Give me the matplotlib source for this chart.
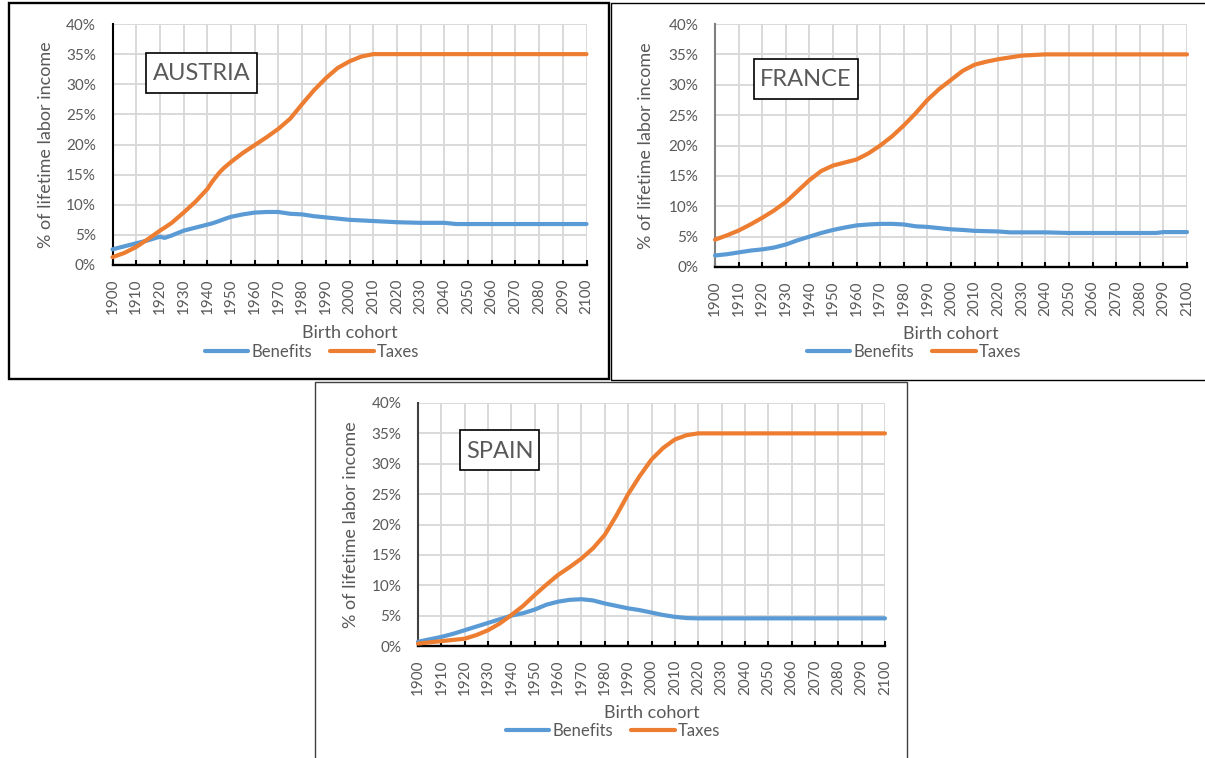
import matplotlib
matplotlib.use("Agg")
import matplotlib.pyplot as plt
from matplotlib.patches import Rectangle
from matplotlib.ticker import FuncFormatter, MultipleLocator

plt.rcParams['font.family'] = ['Lato', 'DejaVu Sans']

# ---------------- data ----------------
austria_years = [1900, 1905, 1910, 1915, 1920, 1922, 1925, 1930, 1935, 1940, 1942, 1945,
                 1947, 1950, 1955, 1960, 1965, 1970, 1975, 1980, 1985, 1990, 1995,
                 2000, 2005, 2010, 2015, 2020, 2030, 2040, 2045, 2050, 2060, 2070,
                 2080, 2090, 2100]
austria_benefits = [2.6, 3.1, 3.6, 4.1, 4.7, 4.5, 4.9, 5.7, 6.2, 6.7, 6.9, 7.3,
                    7.6, 8.0, 8.4, 8.7, 8.8, 8.8, 8.5, 8.4, 8.1, 7.9, 7.7,
                    7.5, 7.4, 7.3, 7.2, 7.1, 7.0, 7.0, 6.8, 6.8, 6.8, 6.8,
                    6.8, 6.8, 6.8]
austria_taxes = [1.3, 2.0, 3.0, 4.3, 5.7, 6.2, 7.0, 8.7, 10.5, 12.6, 13.8, 15.3,
                 16.1, 17.1, 18.6, 19.9, 21.2, 22.6, 24.3, 26.7, 29.0, 31.0, 32.7,
                 33.8, 34.6, 35.0, 35.0, 35.0, 35.0, 35.0, 35.0, 35.0, 35.0, 35.0,
                 35.0, 35.0, 35.0]

france_years = [1900, 1905, 1910, 1915, 1920, 1925, 1930, 1935, 1940, 1945, 1950,
                1955, 1960, 1965, 1970, 1975, 1980, 1985, 1990, 1995, 2000, 2005,
                2010, 2015, 2020, 2025, 2030, 2035, 2040, 2050, 2060, 2070, 2080,
                2087, 2090, 2100]
france_benefits = [1.9, 2.1, 2.4, 2.7, 2.9, 3.2, 3.7, 4.4, 5.0, 5.6, 6.1,
                   6.5, 6.85, 7.0, 7.1, 7.1, 7.0, 6.7, 6.6, 6.4, 6.2, 6.1,
                   5.95, 5.9, 5.85, 5.7, 5.7, 5.7, 5.7, 5.6, 5.6, 5.6, 5.6,
                   5.6, 5.75, 5.75]
france_taxes = [4.5, 5.2, 6.0, 7.0, 8.1, 9.3, 10.7, 12.5, 14.3, 15.8, 16.7,
                17.2, 17.7, 18.7, 20.0, 21.5, 23.3, 25.3, 27.5, 29.3, 30.8, 32.3,
                33.3, 33.8, 34.2, 34.5, 34.8, 34.9, 35.0, 35.0, 35.0, 35.0, 35.0,
                35.0, 35.0, 35.0]

spain_years = [1900, 1905, 1910, 1915, 1920, 1925, 1930, 1935, 1940, 1945, 1950,
               1955, 1960, 1965, 1970, 1975, 1980, 1985, 1990, 1995, 2000, 2005,
               2010, 2015, 2020, 2030, 2040, 2050, 2060, 2070, 2080, 2090, 2100]
spain_benefits = [0.7, 1.1, 1.5, 2.0, 2.6, 3.2, 3.8, 4.4, 5.0, 5.4, 6.0,
                  6.8, 7.3, 7.6, 7.7, 7.5, 7.0, 6.6, 6.2, 5.9, 5.5, 5.1,
                  4.8, 4.6, 4.55, 4.55, 4.55, 4.55, 4.55, 4.55, 4.55, 4.55, 4.55]
spain_taxes = [0.4, 0.6, 0.8, 1.0, 1.2, 1.8, 2.6, 3.7, 5.1, 6.6, 8.4,
               10.1, 11.7, 13.0, 14.4, 16.1, 18.3, 21.5, 25.0, 28.0, 30.7, 32.6,
               34.0, 34.7, 35.0, 35.0, 35.0, 35.0, 35.0, 35.0, 35.0, 35.0, 35.0]

x_ticks = list(range(1900, 2101, 10))
series_labels = ["Benefits", "Taxes"]
x_title = "Birth cohort"
y_title = "% of lifetime labor income"

# ---------------- styling ----------------
BLUE = "#5B9BD5"
ORANGE = "#ED7D31"
GRID = "#D9D9D9"
TEXT = "#595959"

W, H = 1205, 758
fig = plt.figure(figsize=(W / 100, H / 100), dpi=100)
fig.patch.set_facecolor("white")


def fx(x):
    return x / W


def fy(y):
    return 1 - y / H


def frame(x0, y0, x1, y1, lw, color):
    fig.add_artist(Rectangle((fx(x0), fy(y1)), (x1 - x0) / W, (y1 - y0) / H,
                             transform=fig.transFigure, fill=False,
                             lw=lw, edgecolor=color, zorder=0))


# panel frames
frame(8.5, 2.5, 609, 379, 1.7, "black")
frame(611, 2.5, 1210, 380, 1.0, "black")
frame(315, 382, 907, 765, 1.0, "#404040")


def panel(rect, years, benefits, taxes, name, box, left_color,
          ylab_x, xlab_y, legend_xy):
    left, top, right, bottom = rect
    ax = fig.add_axes([fx(left), fy(bottom), (right - left) / W, (bottom - top) / H])
    ax.set_facecolor("none")
    ax.set_xlim(1900, 2100)
    ax.set_ylim(0, 40)
    ax.yaxis.set_major_locator(MultipleLocator(5))
    ax.set_xticks(x_ticks)
    ax.set_xticklabels([str(t) for t in x_ticks], rotation=90)
    ax.yaxis.set_major_formatter(FuncFormatter(lambda v, p: f"{v:.0f}%"))
    ax.grid(True, color=GRID, lw=1.4, zorder=0)
    ax.set_axisbelow(True)
    for s in ("top", "right"):
        ax.spines[s].set_visible(False)
    ax.spines["bottom"].set_color("black")
    ax.spines["bottom"].set_linewidth(1.7)
    ax.spines["left"].set_color(left_color)
    ax.spines["left"].set_linewidth(1.5)
    ax.spines["bottom"].set_zorder(3)
    ax.tick_params(axis="x", direction="in", length=3.8, width=1.5, color="black",
                   pad=10, labelsize=11, labelcolor=TEXT)
    ax.tick_params(axis="y", length=0, pad=12, labelsize=11, labelcolor=TEXT)

    lb, = ax.plot(years, benefits, color=BLUE, lw=3.0, solid_capstyle="round",
                  solid_joinstyle="round", zorder=4, clip_on=False)
    lt, = ax.plot(years, taxes, color=ORANGE, lw=3.0, solid_capstyle="round",
                  solid_joinstyle="round", zorder=5, clip_on=False)

    ax.set_xlabel(x_title, fontsize=13, color=TEXT, va="center")
    ax.xaxis.set_label_coords(0.5, (bottom - xlab_y) / (bottom - top))
    ax.set_ylabel(y_title, fontsize=13, color=TEXT, va="center")
    ax.yaxis.set_label_coords((ylab_x - left) / (right - left), 0.5)

    ax.legend([lb, lt], series_labels, loc="center",
              bbox_to_anchor=(fx(legend_xy[0]), fy(legend_xy[1])),
              bbox_transform=fig.transFigure, ncol=2, frameon=False,
              fontsize=12, handlelength=2.6, handletextpad=0.2,
              columnspacing=1.1, labelcolor=TEXT, borderpad=0)

    bx0, by0, bx1, by1 = box
    fig.add_artist(Rectangle((fx(bx0), fy(by1)), (bx1 - bx0) / W, (by1 - by0) / H,
                             transform=fig.transFigure, facecolor="white",
                             edgecolor="black", lw=1.2, zorder=6))
    fig.text(fx((bx0 + bx1) / 2), fy((by0 + by1) / 2 + 1), name, ha="center",
             va="center", fontsize=17, color=TEXT, zorder=7)
    return ax


panel((112.5, 24, 586.5, 265), austria_years, austria_benefits, austria_taxes,
      "AUSTRIA", (146, 53, 257, 93), "black", 46, 333, (312, 352))
panel((715, 24, 1187, 267), france_years, france_benefits, france_taxes,
      "FRANCE", (754, 59, 858, 99), "#7F7F7F", 646, 334, (914, 352))
panel((418, 403, 885, 646), spain_years, spain_benefits, spain_taxes,
      "SPAIN", (460, 430, 539, 470), "#404040", 351, 713, (613, 731))

fig.savefig("out.png", dpi=100, facecolor="white")
